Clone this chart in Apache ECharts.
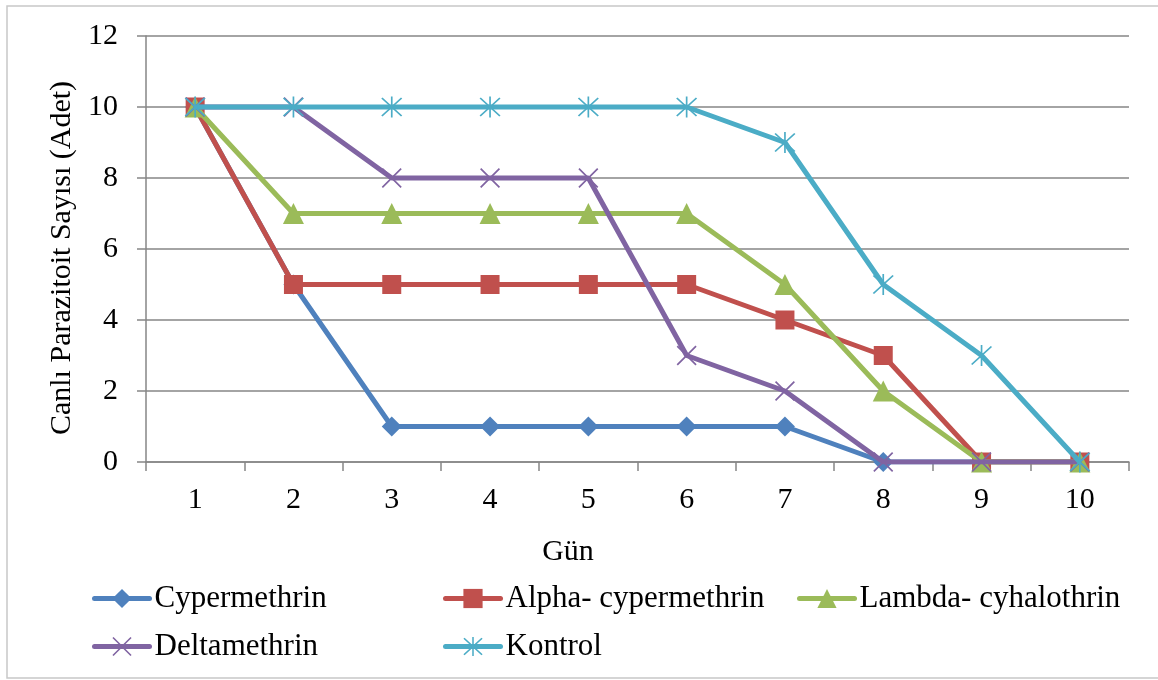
<!DOCTYPE html>
<html>
<head>
<meta charset="utf-8">
<script src="https://cdn.jsdelivr.net/npm/echarts@6/dist/echarts.min.js"></script>
<style>html,body{margin:0;padding:0;background:#fff;}#c{width:1158px;height:680px;}</style>
</head>
<body>
<div id="c"></div>
<script>
const days = ['1','2','3','4','5','6','7','8','9','10'];
const cypermethrin = [10,5,1,1,1,1,1,0,0,0];
const alphaCyper = [10,5,5,5,5,5,4,3,0,0];
const lambdaCyhalo = [10,7,7,7,7,7,5,2,0,0];
const deltamethrin = [10,10,8,8,8,3,2,0,0,0];
const kontrol = [10,10,10,10,10,10,9,5,3,0];
const seriesNames = ['Cypermethrin','Alpha- cypermethrin','Lambda- cyhalothrin','Deltamethrin','Kontrol'];
const yTitle = 'Canlı Parazitoit Sayısı (Adet)';
const xTitle = 'Gün';

const FONT = '"Liberation Serif","Times New Roman",serif';
const colors = ['#4F81BD','#C0504D','#9BBB59','#8064A2','#4BACC6'];
const xSym = 'path://M0,1.2L1.2,0L20,18.8L18.8,20Z M18.8,0L20,1.2L1.2,20L0,18.8Z';
const starSym = 'path://M0,1.2L1.2,0L20,18.8L18.8,20Z M18.8,0L20,1.2L1.2,20L0,18.8Z M9.2,-1L10.8,-1L10.8,21L9.2,21Z';
const symbols = ['diamond','rect','triangle',xSym,starSym];
const sizes = [20,19,21,20,21];
const dataArr = [cypermethrin, alphaCyper, lambdaCyhalo, deltamethrin, kontrol];

const legendPos = [[92,583],[443,583],[797,583],[92,631],[443,631]];

const chart = echarts.init(document.getElementById('c'), null, {renderer:'canvas'});
chart.setOption({
  animation:false,
  backgroundColor:'#fff',
  textStyle:{fontFamily:FONT},
  grid:{left:146, right:29, top:36, bottom:218, containLabel:false},
  legend: seriesNames.map((n,i)=>({
    data:[n], left:legendPos[i][0], top:legendPos[i][1], padding:0,
    itemWidth:55, itemHeight:24, itemGap:0,
    lineStyle:{width:5, cap:'round'},
    textStyle:{fontFamily:FONT, fontSize:31, color:'#000'}
  })),
  xAxis:{
    type:'category', data:days, boundaryGap:true,
    axisLine:{lineStyle:{color:'#868686', width:1.5}},
    axisTick:{show:true, length:9, lineStyle:{color:'#868686', width:1.5}},
    axisLabel:{fontFamily:FONT, fontSize:30, color:'#000', margin:23},
    splitLine:{show:false}
  },
  yAxis:{
    type:'value', min:0, max:12, interval:2,
    axisLine:{show:true, lineStyle:{color:'#868686', width:1.5}},
    axisTick:{show:true, length:9, lineStyle:{color:'#868686', width:1.5}},
    axisLabel:{fontFamily:FONT, fontSize:30, color:'#000', margin:28},
    splitLine:{show:true, lineStyle:{color:'#868686', width:1.5}}
  },
  graphic:[
    {type:'rect', shape:{x:7, y:6, width:1170, height:672}, style:{fill:'none', stroke:'#c8c8c8', lineWidth:1.5}, silent:true},
    {type:'text', x:62, y:258, rotation:Math.PI/2, style:{text:yTitle, font:'30px '+FONT, fill:'#000', textAlign:'center', textVerticalAlign:'middle'}},
    {type:'text', x:568, y:552, style:{text:xTitle, font:'30px '+FONT, fill:'#000', textAlign:'center', textVerticalAlign:'middle'}}
  ],
  series: seriesNames.map((n,i)=>({
    name:n, type:'line', data:dataArr[i],
    symbol:symbols[i], symbolSize:sizes[i], showAllSymbol:true,
    lineStyle:{color:colors[i], width:5},
    itemStyle:{color:colors[i]},
    z:2+i
  }))
});
</script>
</body>
</html>
